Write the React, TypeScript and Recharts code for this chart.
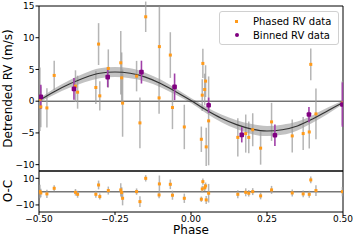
import {
  Area,
  ComposedChart,
  ErrorBar,
  Legend,
  Line,
  ReferenceArea,
  ReferenceLine,
  Scatter,
  XAxis,
  YAxis,
} from "recharts";

const phasedPhase = [
  -0.497, -0.494, -0.474, -0.45, -0.38, -0.373, -0.313, -0.304, -0.3, -0.272,
  -0.231, -0.228, -0.225, -0.179, -0.168, -0.149, -0.105, -0.104, -0.068, -0.061,
  -0.022, 0.034, 0.037, 0.039, 0.045, 0.048, 0.05, 0.058, 0.154, 0.18,
  0.19, 0.203, 0.229, 0.265, 0.333, 0.369, 0.389, 0.394, 0.411, 0.498,
];
const phasedRv = [
  0.3, -0.9, -1.06, 4.06, 2.37, 1.42, 2.16, 9.0, 0.84, 5.16,
  6.05, 3.68, -0.3, 3.95, -3.42, 13.3, 0.52, 8.6, 7.27, -1.0,
  -4.06, -6.0, 0.95, 5.95, 1.84, 3.16, -7.2, -3.1, -5.7, -5.1,
  -5.7, -4.5, -7.4, -3.26, -5.47, -5.1, -4.85, 5.8, -2.0, -0.3,
];
const phasedErr = [
  5.0, 3.2, 3.1, 2.3, 2.5, 2.6, 2.6, 3.3, 2.3, 3.0,
  5.0, 4.0, 5.3, 2.4, 4.0, 2.4, 2.5, 6.3, 3.6, 3.4,
  3.5, 2.0, 2.5, 2.3, 2.5, 2.5, 3.0, 7.0, 3.0, 3.0,
  2.5, 2.6, 2.6, 3.0, 2.6, 2.6, 2.6, 2.5, 4.0, 3.5,
];
const residual = [
  0.1, -1.0, -1.7, 2.5, -0.5, -2.0, -2.0, 5.0, -3.7, 0.8,
  1.3, -0.7, -5.0, 0.0, -7.5, 10.0, -2.5, 5.8, 5.5, -2.7,
  -5.0, -5.7, 2.0, 7.5, 2.9, 4.3, -6.2, -1.2, -2.0, -0.5,
  -1.2, 0.0, -3.2, 1.3, -1.0, -1.7, -2.0, 8.8, 0.8, 0.0,
];

// binned RV
const binPhase = [-0.494, -0.385, -0.274, -0.163, -0.054, 0.058, 0.167, 0.276, 0.388, 0.498];
const binRv = [0.68, 1.94, 3.79, 4.58, 2.26, -0.63, -5.3, -5.37, -2.1, -0.53];
const binErr = [1.9, 1.7, 1.6, 1.8, 2.1, 1.2, 1.2, 1.7, 1.2, 3.5];

// keplerian model and its uncertainty band
const modelPhase = [
  -0.5, -0.45, -0.4, -0.35, -0.3, -0.25, -0.2, -0.15, -0.1, -0.05, 0,
  0.05, 0.1, 0.15, 0.2, 0.25, 0.3, 0.35, 0.4, 0.45, 0.5,
];
const modelRv = [
  0.1, 1.5, 2.7, 3.7, 4.4, 4.6, 4.4, 3.8, 2.8, 1.5, 0.1,
  -1.4, -2.7, -3.7, -4.4, -4.7, -4.5, -3.9, -2.8, -1.5, -0.2,
];
const modelSpread = [
  0.3, 0.5, 0.6, 0.7, 0.8, 0.8, 0.8, 0.7, 0.6, 0.5, 0.4,
  0.5, 0.6, 0.7, 0.8, 0.8, 0.8, 0.7, 0.6, 0.5, 0.3,
];

const xTicks = [-0.5, -0.25, 0, 0.25, 0.5];
const rvTicks = [-10, -5, 0, 5, 10, 15];
const resTicks = [-10, 0, 10];

const ORANGE = "#ff9a1a";
const PURPLE = "#800080";

const modelRows = modelPhase.map((p, i) => ({
  phase: p,
  model: modelRv[i],
  band: [modelRv[i] - modelSpread[i], modelRv[i] + modelSpread[i]],
}));
const phasedRows = phasedPhase.map((p, i) => ({ phase: p, rv: phasedRv[i], err: phasedErr[i] }));
const binRows = binPhase.map((p, i) => ({ phase: p, rv: binRv[i], err: binErr[i] }));
const resRows = phasedPhase.map((p, i) => ({ phase: p, res: residual[i], err: phasedErr[i] }));

const minus = (s: string) => s.replace("-", "\u2212");
const fmtX = (v: number) => minus(v.toFixed(2));
const fmtY = (v: number) => minus(String(v));

const OrangeDot = (p: any) => (
  <rect x={p.cx - 1.5} y={p.cy - 1.5} width={3} height={3} fill={ORANGE} />
);
const PurpleDot = (p: any) => (
  <rect x={p.cx - 2.3} y={p.cy - 2.3} width={4.6} height={4.6} rx={1} fill={PURPLE} />
);

const tickStyle = { fontSize: 9, fill: "#000" };

function LegendBox() {
  const row = { display: "flex", alignItems: "center", height: 14 } as const;
  return (
    <div
      style={{
        border: "1px solid #d0d0d0",
        borderRadius: 3,
        background: "rgba(255,255,255,0.85)",
        padding: "2px 0",
        fontSize: 10,
        color: "#000",
        boxSizing: "border-box",
        width: 120,
      }}
    >
      <div style={row}>
        <span style={{ width: 33, display: "flex", justifyContent: "center" }}>
          <span style={{ width: 3, height: 3, background: ORANGE }} />
        </span>
        Phased RV data
      </div>
      <div style={row}>
        <span style={{ width: 33, display: "flex", justifyContent: "center" }}>
          <span style={{ width: 4, height: 4, borderRadius: 2, background: PURPLE }} />
        </span>
        Binned RV data
      </div>
    </div>
  );
}

export default function App() {
  return (
    <div
      style={{
        position: "absolute",
        left: 0,
        top: 0,
        width: 357,
        height: 241,
        background: "#fff",
        fontFamily: "'DejaVu Sans', sans-serif",
      }}
    >
      <div style={{ position: "absolute", left: 0, top: 0 }}>
        <ComposedChart
          width={357}
          height={172}
          data={modelRows}
          margin={{ top: 6, right: 14, bottom: 1, left: 0 }}
        >
          <XAxis dataKey="phase" type="number" domain={[-0.5, 0.5]} hide allowDataOverflow />
          <YAxis
            type="number"
            domain={[-11, 15]}
            ticks={rvTicks}
            width={39}
            tickSize={3.5}
            tickMargin={1}
            axisLine={false}
            tick={tickStyle}
            tickLine={{ stroke: "#000" }}
            tickFormatter={fmtY}
            allowDataOverflow
          />
          <ReferenceLine y={0} stroke="#333" strokeWidth={1} />
          <Scatter data={phasedRows} dataKey="rv" shape={OrangeDot} isAnimationActive={false}>
            <ErrorBar dataKey="err" direction="y" width={0} stroke="#9c9c9c" strokeWidth={1.5} strokeOpacity={0.75} />
          </Scatter>
          <Area
            type="monotone"
            dataKey="band"
            stroke="none"
            fill="#8f8f8f"
            fillOpacity={0.55}
            isAnimationActive={false}
          />
          <Line
            type="monotone"
            dataKey="model"
            stroke="#333"
            strokeWidth={1.2}
            dot={false}
            isAnimationActive={false}
          />
          <Scatter data={binRows} dataKey="rv" shape={PurpleDot} isAnimationActive={false}>
            <ErrorBar dataKey="err" direction="y" width={0} stroke="#a040a8" strokeWidth={1.6} />
          </Scatter>
          <ReferenceArea x1={-0.5} x2={0.5} y1={-11} y2={15} fill="none" stroke="#000" strokeWidth={1} />
          <Legend
            layout="horizontal"
            verticalAlign="middle"
            align="center"
            wrapperStyle={{ top: 11, left: 219, width: 120, height: 34 }}
            content={() => <LegendBox />}
          />
          <text
            x={12}
            y={88.5}
            transform="rotate(-90 12 88.5)"
            textAnchor="middle"
            fontSize={12}
            fill="#000"
          >
            Detrended RV (m/s)
          </text>
        </ComposedChart>
      </div>
      <div style={{ position: "absolute", left: 0, top: 170 }}>
        <ComposedChart width={357} height={71} margin={{ top: 1, right: 14, bottom: 0, left: 0 }}>
          <XAxis
            dataKey="phase"
            type="number"
            domain={[-0.5, 0.5]}
            ticks={xTicks}
            height={29}
            tickSize={3}
            tickMargin={1}
            axisLine={false}
            tick={tickStyle}
            tickLine={{ stroke: "#000" }}
            tickFormatter={fmtX}
            allowDataOverflow
          />
          <YAxis
            type="number"
            domain={[-15.3, 15.5]}
            ticks={resTicks}
            width={39}
            tickSize={3.5}
            tickMargin={1}
            axisLine={false}
            tick={tickStyle}
            tickLine={{ stroke: "#000" }}
            tickFormatter={fmtY}
            allowDataOverflow
          />
          <ReferenceLine y={0} stroke="#777" strokeWidth={1.5} />
          <Scatter data={resRows} dataKey="res" shape={OrangeDot} isAnimationActive={false}>
            <ErrorBar dataKey="err" direction="y" width={0} stroke="#9c9c9c" strokeWidth={1.5} strokeOpacity={0.75} />
          </Scatter>
          <ReferenceArea x1={-0.5} x2={0.5} y1={-15.3} y2={15.5} fill="none" stroke="#000" strokeWidth={1} />
          <text
            x={11.5}
            y={21}
            transform="rotate(-90 11.5 21)"
            textAnchor="middle"
            fontSize={12}
            fill="#000"
          >
            O-C
          </text>
          <text x={191} y={64} textAnchor="middle" fontSize={12} fill="#000">
            Phase
          </text>
        </ComposedChart>
      </div>
    </div>
  );
}
